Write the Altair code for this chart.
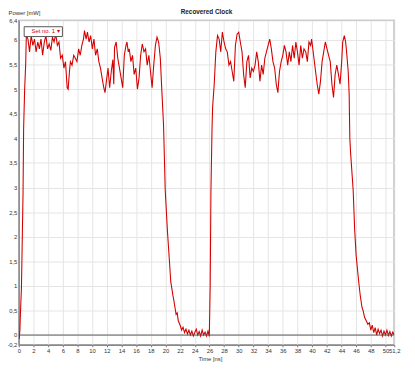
import altair as alt
import pandas as pd

# ---- data ----
time_ns = [
    0.05, 0.15, 0.22, 0.36, 0.49, 0.58, 0.66, 0.80, 0.94,
    1.03, 1.25, 1.47, 1.69, 1.92, 2.14, 2.36, 2.59, 2.81, 3.03, 3.25, 3.48, 3.70, 3.92,
    4.14, 4.37, 4.59, 4.81, 5.04, 5.26, 5.48, 5.70, 5.93, 6.15, 6.37, 6.60, 6.73, 6.91,
    7.04, 7.26, 7.49, 7.71, 7.93, 8.16, 8.38, 8.60, 8.82, 8.96, 9.18, 9.36, 9.58, 9.80,
    10.03, 10.25, 10.47, 10.70, 10.92, 11.14, 11.36, 11.59, 11.76, 11.94, 12.17, 12.39,
    12.61, 12.83, 12.95, 13.06, 13.28, 13.50, 13.73, 13.95, 14.17, 14.39, 14.62, 14.75,
    14.93, 15.06, 15.29, 15.51, 15.73, 15.95, 16.18, 16.40, 16.62, 16.84, 17.07, 17.29,
    17.51, 17.74, 17.96, 18.18, 18.40, 18.63, 18.85, 19.07, 19.30,
    19.52, 19.74, 19.97, 20.28, 20.55, 20.72, 21.00, 21.15, 21.30, 21.45, 21.60, 21.75,
    22.00, 22.20, 22.40, 22.60, 22.80, 23.00, 23.20, 23.40, 23.60, 23.80, 24.00, 24.20,
    24.40, 24.60, 24.80, 25.00, 25.20, 25.40, 25.60, 25.80, 25.98,
    26.10, 26.20, 26.35, 26.43, 26.65, 26.87, 27.10, 27.32, 27.54, 27.76, 27.99, 28.21,
    28.43, 28.66, 28.88, 29.10, 29.32, 29.54, 29.77, 29.99, 30.21, 30.44, 30.66, 30.88,
    31.10, 31.33, 31.55, 31.77, 31.99, 32.22, 32.44, 32.66, 32.88, 33.11, 33.33, 33.55,
    33.77, 34.00, 34.22, 34.44, 34.66, 34.89, 35.11, 35.33, 35.55, 35.78, 36.00, 36.22,
    36.44, 36.67, 36.89, 37.11, 37.33, 37.56, 37.78, 38.00, 38.22, 38.45, 38.67, 38.89,
    39.13, 39.35, 39.57, 39.80, 39.93, 40.25, 40.47, 40.69, 40.91, 41.14, 41.36, 41.58,
    41.80, 42.03, 42.25, 42.47, 42.70, 42.92, 43.14, 43.36, 43.59, 43.81, 44.03, 44.17,
    44.39, 44.57, 44.70, 44.92,
    45.05, 45.14, 45.25, 45.60, 45.80, 46.00, 46.35, 46.55, 46.80, 46.95, 47.15, 47.35,
    47.60, 47.80, 48.00, 48.20, 48.40, 48.60, 48.80, 49.00, 49.20, 49.40, 49.60, 49.80,
    50.00, 50.20, 50.40, 50.60, 50.80, 51.00, 51.20,
]
power_mw = [
    -0.08, 0.10, 0.42, 0.95, 2.09, 2.88, 4.20, 5.00, 5.50,
    6.09, 6.02, 5.76, 6.09, 5.89, 6.02, 5.76, 5.96, 5.82, 6.02, 5.69, 5.96, 6.09, 5.82,
    5.92, 5.79, 6.06, 5.96, 6.12, 5.89, 5.96, 5.63, 5.69, 5.43, 5.56, 5.03, 5.00, 5.36,
    5.56, 5.49, 5.69, 5.63, 5.56, 5.82, 5.69, 5.89, 6.02, 6.19, 6.02, 6.16, 5.96, 6.09,
    5.82, 6.02, 5.69, 5.82, 5.56, 5.43, 5.23, 5.03, 4.93, 5.16, 5.43, 5.03,
    5.36, 5.60, 5.10, 5.85, 5.96, 5.63, 5.43, 5.23, 5.03, 5.69, 5.89, 5.96,
    5.76, 5.82, 5.56, 5.69, 5.30, 5.43, 5.00, 5.23, 5.69, 5.92, 5.76, 5.82,
    5.49, 5.69, 5.36, 5.03, 5.49, 5.89, 6.06, 5.96, 5.63,
    4.93, 4.27, 2.94, 2.09, 1.49, 1.09, 0.82, 0.70, 0.56, 0.42, 0.45, 0.29,
    0.20, 0.10, 0.16, 0.05, 0.12, 0.02, 0.10, 0.00, 0.08, -0.02, 0.05, 0.12,
    0.00, 0.07, -0.02, 0.10, 0.00, 0.06, -0.02, 0.08, -0.03,
    1.00, 2.90, 4.20, 4.63, 5.10, 5.76, 6.09, 6.02, 5.76, 6.16, 5.96, 5.82,
    5.76, 5.49, 5.56, 5.36, 5.16, 5.89, 6.12, 6.16, 5.96, 5.76, 5.30, 5.03,
    5.56, 5.69, 5.23, 5.43, 5.36, 5.49, 5.76, 5.56, 5.16, 5.49, 5.30, 5.63,
    5.76, 5.89, 6.02, 5.82, 5.56, 5.43, 5.10, 4.93, 5.36, 5.56, 5.69, 5.89,
    5.76, 5.49, 5.76, 5.56, 5.89, 5.63, 5.96, 5.76, 5.49, 5.89, 5.63, 5.82,
    5.76, 5.56, 5.96, 5.89, 6.02, 5.63, 5.36, 5.10, 4.90, 5.16, 5.56, 5.76,
    5.96, 5.82, 5.69, 5.56, 5.10, 4.83, 5.30, 5.49, 5.30, 5.10, 5.56, 5.96,
    6.09, 5.96, 5.76, 5.36,
    4.90, 4.00, 3.70, 2.94, 2.15, 1.62, 1.09, 0.82, 0.56, 0.50, 0.36, 0.30,
    0.22, 0.25, 0.10, 0.20, 0.05, 0.15, 0.00, 0.12, 0.03, 0.10, -0.02, 0.08,
    0.00, 0.10, -0.01, 0.07, -0.02, 0.06, 0.00,
]
series_name = "Set no. 1"
x_ticks = [0, 2, 4, 6, 8, 10, 12, 14, 16, 18, 20, 22, 24, 26, 28, 30, 32, 34, 36,
           38, 40, 42, 44, 46, 48, 50, 51.2]
y_ticks = [-0.2, 0, 0.5, 1, 1.5, 2, 2.5, 3, 3.5, 4, 4.5, 5, 5.5, 6, 6.4]
baseline_level = [0]

df = pd.DataFrame({"t": time_ns, "p": power_mw, "s": series_name})
zero_df = pd.DataFrame({"z": baseline_level})

RED = "#d40000"
FONT = "Liberation Sans"
comma_expr = "replace(toString(datum.value), '.', ',')"

y_scale = alt.Scale(domain=[-0.2, 6.4], nice=False, zero=False)
y_axis = alt.Axis(values=y_ticks, labelExpr=comma_expr, title="Power [mW]",
                  titleAngle=0, titleX=-11, titleY=-8, titleAlign="left",
                  titleBaseline="middle", ticks=False, labelPadding=2,
                  labelFlush=False, labelOverlap=False)

x_enc = alt.X(
    "t:Q",
    scale=alt.Scale(domain=[0, 51.2], nice=False, zero=False),
    axis=alt.Axis(values=x_ticks, labelExpr=comma_expr, title="Time [ns]",
                  titleX=195, titleY=14, titleBaseline="middle",
                  tickSize=2, labelPadding=1, labelFlush=False, labelOverlap=False),
)

line = alt.Chart(df).mark_line(strokeWidth=1.1, clip=True).encode(
    x=x_enc,
    y=alt.Y("p:Q", scale=y_scale, axis=y_axis),
    color=alt.Color(
        "s:N",
        scale=alt.Scale(domain=[series_name], range=[RED]),
        legend=alt.Legend(
            title=None, orient="none", legendX=5, legendY=6,
            labelFont=FONT, labelFontSize=6, labelColor=RED,
            labelExpr="datum.label + ' \u25be'",
            symbolSize=0, symbolOpacity=0, symbolStrokeWidth=0, labelOffset=0,
            strokeColor="#555", fillColor="white", padding=2,
        ),
    ),
)

zero_rule = alt.Chart(zero_df).mark_rule(color="#555", strokeWidth=1).encode(
    y=alt.Y("z:Q", scale=y_scale, axis=y_axis)
)

chart = (
    alt.layer(line, zero_rule)
    .properties(
        width=383, height=331,
        autosize=alt.AutoSizeParams(type="none"),
        padding={"left": 11, "top": 9, "right": 13, "bottom": 20},
        title=alt.TitleParams("Recovered Clock", font=FONT, fontSize=6.5,
                              fontWeight="bold", anchor="middle", offset=0,
                              dy=9, baseline="middle", frame="group",
                              color="#222"),
    )
    .configure_view(stroke="#a0a0a0", strokeWidth=1.5)
    .configure_axis(
        labelFont=FONT, labelFontSize=6, labelColor="#333",
        titleFont=FONT, titleFontSize=6, titleFontWeight="normal", titleColor="#333",
        gridColor="#e4e4e4", gridWidth=1, domainColor="#777", tickColor="#777",
    )
)

chart.save("out.html", embed_options={"renderer": "svg", "actions": False})
